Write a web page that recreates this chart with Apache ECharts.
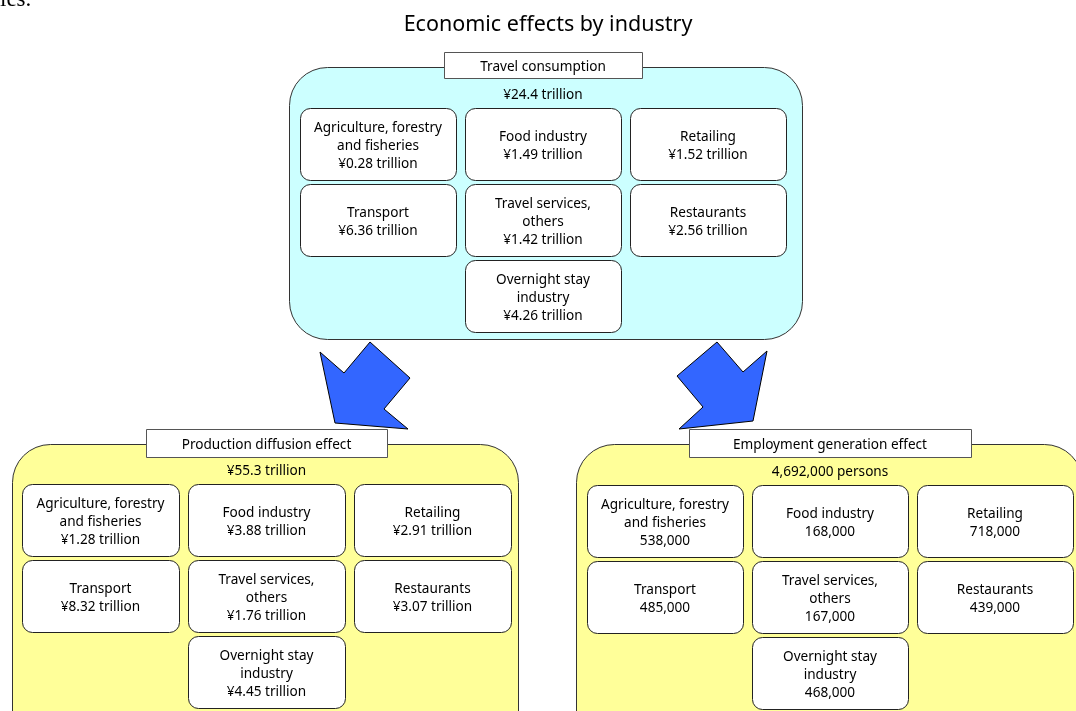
<!DOCTYPE html>
<html>
<head>
<meta charset="utf-8">
<title>Economic effects by industry</title>
<script src="https://cdn.jsdelivr.net/npm/echarts@6/dist/echarts.min.js"></script>
<style>
  html, body { margin: 0; padding: 0; background: #fff; }
  #chart { width: 1076px; height: 711px; }
</style>
</head>
<body>
<div id="chart"></div>
<script>
// --- data ---
const industries = [
  'Agriculture, forestry\nand fisheries',
  'Food industry',
  'Retailing',
  'Transport',
  'Travel services,\nothers',
  'Restaurants',
  'Overnight stay\nindustry'
];
const panelTitles = ['Travel consumption', 'Production diffusion effect', 'Employment generation effect'];
const panelTotals = [24.4, 55.3, 4692000];
const consumptionValues = [0.28, 1.49, 1.52, 6.36, 1.42, 2.56, 4.26]; // ¥ trillion
const productionValues = [1.28, 3.88, 2.91, 8.32, 1.76, 3.07, 4.45];  // ¥ trillion
const employmentValues = [538000, 168000, 718000, 485000, 167000, 439000, 468000]; // persons

// --- layout (in the 1076 x 711 frame of the hidden axes) ---
const cellCol = [0, 1, 2, 0, 1, 2, 1];
const cellRow = [0, 0, 0, 1, 1, 1, 2];
const cellH = 72;
const stepY = 76;
const panels = [
  { x: 289, y: 67, w: 513, h: 272, fill: '#ccffff', labelW: 198, labelY: 52, labelH: 26, totalY: 95,
    cellX: 300, cellY: 108, cellW: 156, stepX: 165 },
  { x: 12, y: 444, w: 506, h: 330, fill: '#ffff99', labelW: 241, labelY: 429, labelH: 28, totalY: 471,
    cellX: 22, cellY: 484, cellW: 157, stepX: 166 },
  { x: 576, y: 444, w: 506, h: 330, fill: '#ffff99', labelW: 282, labelY: 429, labelH: 28, totalY: 472,
    cellX: 587, cellY: 485, cellW: 156, stepX: 165 }
];

const FONT = '"Noto Sans", sans-serif';
const BODY = '13.6px ' + FONT;
const trillion = (v, d) => '¥' + v.toFixed(d) + ' trillion';
const persons = v => v.toLocaleString('en-US');
const totalText = [v => trillion(v, 1), v => trillion(v, 1), v => persons(v) + ' persons'];
const cellText = [v => trillion(v, 2), v => trillion(v, 2), v => persons(v)];

function gridCenterX(p) {
  return p.cellX + (2 * p.stepX + p.cellW) / 2;
}

function panelSeries() {
  return {
    type: 'custom',
    name: 'panels',
    coordinateSystem: 'cartesian2d',
    clip: false,
    silent: true,
    data: panelTotals.map((v, i) => [i, v]),
    renderItem: (params, api) => {
      const i = api.value(0);
      const p = panels[i];
      const a = api.coord([p.x, p.y]);
      const b = api.coord([p.x + p.w, p.y + p.h]);
      const cx = api.coord([gridCenterX(p), 0])[0];
      const l1 = api.coord([gridCenterX(p) - p.labelW / 2, p.labelY]);
      const l2 = api.coord([gridCenterX(p) + p.labelW / 2, p.labelY + p.labelH]);
      const ty = api.coord([0, p.totalY])[1];
      return {
        type: 'group',
        children: [
          { type: 'rect', shape: { x: a[0] + 0.5, y: a[1] + 0.5, width: b[0] - a[0], height: b[1] - a[1], r: 38 },
            style: { fill: p.fill, stroke: '#333', lineWidth: 1 } },
          { type: 'rect', shape: { x: l1[0] + 0.5, y: l1[1] + 0.5, width: l2[0] - l1[0], height: l2[1] - l1[1] },
            style: { fill: '#fff', stroke: '#555', lineWidth: 1 } },
          { type: 'text', style: { x: cx, y: (l1[1] + l2[1]) / 2 + 2, text: panelTitles[i], align: 'center',
            verticalAlign: 'middle', font: BODY, fill: '#000' } },
          { type: 'text', style: { x: cx, y: ty, text: totalText[i](api.value(1)), align: 'center',
            verticalAlign: 'middle', font: BODY, fill: '#000' } }
        ]
      };
    }
  };
}

function cellSeries(k, values) {
  const p = panels[k];
  return {
    type: 'custom',
    name: panelTitles[k],
    coordinateSystem: 'cartesian2d',
    clip: false,
    data: values.map((v, i) => [i, v]),
    renderItem: (params, api) => {
      const i = api.value(0);
      const x0 = p.cellX + cellCol[i] * p.stepX;
      const y0 = p.cellY + cellRow[i] * stepY;
      const a = api.coord([x0, y0]);
      const b = api.coord([x0 + p.cellW, y0 + cellH]);
      return {
        type: 'group',
        children: [
          { type: 'rect', shape: { x: a[0] + 0.5, y: a[1] + 0.5, width: b[0] - a[0], height: b[1] - a[1], r: 10 },
            style: { fill: '#fff', stroke: '#222', lineWidth: 1 } },
          { type: 'text', style: { x: (a[0] + b[0]) / 2, y: (a[1] + b[1]) / 2 + 2,
            text: industries[i] + '\n' + cellText[k](api.value(1)), align: 'center', verticalAlign: 'middle',
            font: BODY, lineHeight: 18, fill: '#000' } }
        ]
      };
    }
  };
}

const chart = echarts.init(document.getElementById('chart'), null, { renderer: 'canvas' });
chart.setOption({
  animation: false,
  backgroundColor: '#fff',
  title: {
    text: 'Economic effects by industry',
    left: 543,
    top: 9,
    textAlign: 'center',
    textStyle: { fontSize: 21.5, fontWeight: 'normal', color: '#000', fontFamily: FONT }
  },
  grid: { left: 0, right: 0, top: 0, bottom: 0 },
  xAxis: { type: 'value', min: 0, max: 1076, show: false },
  yAxis: { type: 'value', min: 0, max: 711, inverse: true, show: false },
  graphic: [
    // fragment of the preceding page text, cut off at the top edge
    { type: 'text', left: 0, top: -12, style: { text: 'ies.', font: '23px "Liberation Serif", serif', fill: '#000' } },
    { type: 'polygon', z: 10, shape: { points: [[370, 342], [410, 378], [384, 409], [408, 429], [335, 423], [320, 352], [344, 373]] },
      style: { fill: '#3366ff', stroke: '#000', lineWidth: 1 } },
    { type: 'polygon', z: 10, shape: { points: [[717, 342], [677, 376], [703, 407], [679, 429], [753, 421], [767, 351], [743, 372]] },
      style: { fill: '#3366ff', stroke: '#000', lineWidth: 1 } }
  ],
  series: [
    panelSeries(),
    cellSeries(0, consumptionValues),
    cellSeries(1, productionValues),
    cellSeries(2, employmentValues)
  ]
});
window.addEventListener('resize', () => chart.resize());
</script>
</body>
</html>
